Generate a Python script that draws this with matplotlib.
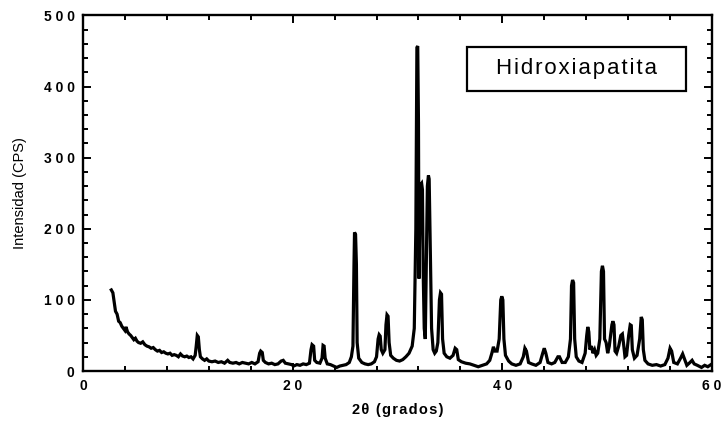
import matplotlib
matplotlib.use("Agg")
import matplotlib.pyplot as plt
from matplotlib.patches import Rectangle
from matplotlib.ticker import MultipleLocator, FuncFormatter

# Diffractogram trace: 2-theta (degrees) and intensity (CPS)
two_theta = [
    2.7, 2.85, 3.0, 3.1, 3.25, 3.4, 3.55, 3.7, 3.85, 4.0, 4.1, 4.25, 4.4, 4.55, 4.7, 4.85,
    5.0, 5.15, 5.3, 5.5, 5.7, 5.9, 6.1, 6.3, 6.5, 6.7, 6.9, 7.1, 7.3, 7.5, 7.7, 7.9, 8.1,
    8.3, 8.5, 8.7, 8.9, 9.1, 9.3, 9.5, 9.7, 9.9, 10.1, 10.3, 10.5, 10.7,
    10.8, 10.9, 11.0, 11.1, 11.2, 11.4, 11.6, 11.8, 12.0, 12.3, 12.6, 12.9, 13.2, 13.5,
    13.8, 14.0, 14.3, 14.6, 14.9, 15.2, 15.5, 15.8, 16.1, 16.4, 16.7,
    16.85, 16.95, 17.1, 17.2, 17.4, 17.7, 18.0, 18.3, 18.6, 18.9, 19.1, 19.3, 19.6, 19.9,
    20.1, 20.4, 20.7, 21.0, 21.3, 21.6,
    21.75, 21.85, 22.0, 22.1, 22.3, 22.6, 22.8, 22.9, 23.0, 23.1, 23.3, 23.6, 23.9, 24.2,
    24.5, 24.8, 25.1, 25.4, 25.6, 25.75, 25.85, 25.9, 26.0, 26.08, 26.15, 26.3, 26.6, 26.9,
    27.2, 27.5, 27.8, 28.0,
    28.15, 28.25, 28.35, 28.45, 28.6, 28.8, 28.9, 29.0, 29.1, 29.2, 29.35, 29.6, 29.9, 30.2,
    30.5, 30.8, 31.1, 31.4, 31.6, 31.75,
    31.85, 31.93, 32.0, 32.05, 32.12, 32.2, 32.3, 32.38, 32.45, 32.55, 32.65, 32.75, 32.85,
    32.95, 33.02, 33.1, 33.15, 33.25, 33.4, 33.55, 33.7, 33.85, 34.0, 34.1, 34.2, 34.3, 34.45,
    34.7, 35.0, 35.3, 35.5, 35.65, 35.8, 36.1, 36.5, 36.9, 37.3, 37.7, 38.1, 38.5, 38.8,
    39.0, 39.15, 39.3, 39.5, 39.7, 39.85, 39.95, 40.05, 40.15, 40.3, 40.6, 40.9, 41.3, 41.7,
    42.0, 42.15, 42.3, 42.5, 42.8, 43.2, 43.6, 43.85, 44.0, 44.15, 44.35, 44.7, 45.0, 45.3,
    45.45, 45.7, 46.0, 46.3, 46.5, 46.6, 46.7, 46.8, 46.9, 47.05, 47.3, 47.6, 47.9, 48.05,
    48.15, 48.25, 48.35, 48.5, 48.65, 48.8, 48.95, 49.1, 49.3, 49.45, 49.55, 49.65, 49.75,
    49.9, 50.05, 50.2, 50.45, 50.55, 50.65, 50.75, 50.9, 51.1, 51.3, 51.45, 51.55, 51.7,
    51.85, 52.05, 52.2, 52.3, 52.4, 52.6, 52.85, 53.1, 53.25, 53.35, 53.45, 53.6, 53.9,
    54.3, 54.7, 55.1, 55.5, 55.8, 56.0, 56.15, 56.35, 56.7, 57.0, 57.2, 57.35, 57.6, 57.9,
    58.1, 58.3, 58.6, 59.0, 59.3, 59.6, 60.0,
]
intensity = [
    114, 110, 95, 84, 80, 70, 68, 63, 60, 57, 62, 55, 52, 50, 47, 44,
    46, 42, 40, 39, 41, 37, 35, 34, 32, 33, 30, 28, 29, 26, 27, 25, 24,
    25, 22, 23, 22, 20, 24, 21, 20, 21, 19, 20, 17, 22,
    35, 50, 48, 30, 20, 17, 15, 17, 14, 13, 14, 12, 13, 11,
    15, 12, 11, 12, 10, 12, 11, 10, 12, 10, 13,
    25, 28, 26, 15, 12, 10, 11, 9, 10, 14, 15, 11, 10, 9,
    7, 9, 8, 10, 9, 11,
    30, 37, 35, 15, 12, 11, 18, 36, 35, 18, 10, 9, 7, 5,
    7, 8, 9, 12, 20, 35, 150, 195, 192, 150, 40, 18, 12, 10,
    9, 10, 13, 20,
    45, 51, 49, 30, 25, 30, 65, 79, 77, 40, 22, 18, 15, 14,
    16, 20, 25, 35, 60, 200,
    455, 457, 350, 130, 200, 262, 264, 255, 140, 60, 45, 150, 260,
    275, 270, 200, 160, 60, 30, 25, 28, 40, 100, 110, 108, 45, 25,
    20, 18, 22, 32, 30, 16, 13, 11, 10, 8, 6, 8, 10, 15,
    25, 34, 28, 28, 45, 100, 105, 100, 45, 22, 14, 10, 8, 10,
    20, 32, 28, 12, 10, 8, 12, 25, 32, 25, 12, 10, 12, 20,
    20, 12, 12, 20, 45, 120, 128, 124, 45, 20, 14, 12, 25, 50,
    62, 55, 30, 35, 25, 30, 22, 25, 45, 140, 148, 140, 45,
    40, 25, 35, 65, 70, 65, 28, 25, 35, 50, 52, 40, 20,
    22, 50, 65, 64, 30, 18, 22, 45, 76, 72, 30, 15, 10,
    8, 9, 7, 9, 18, 32, 28, 12, 10, 18, 24, 18, 8, 12,
    15, 10, 8, 5, 8, 6, 10,
]

x_ticks = [0, 20, 40, 60]
y_ticks = [0, 100, 200, 300, 400, 500]
sample_name = "Hidroxiapatita"

FONT = ["Liberation Sans", "DejaVu Sans"]
plt.rcParams["font.family"] = FONT


def spaced(text, gap="\u2009"):
    """Insert a small gap between characters to widen the lettering."""
    return gap.join(text)


fig = plt.figure(figsize=(7.23, 4.23), dpi=100)
ax = fig.add_axes([83 / 723, 1 - 371 / 423, 629 / 723, 355.5 / 423])

ax.plot(two_theta, intensity, color="black", lw=2.3, solid_joinstyle="miter")

ax.set_xlim(0, 60)
ax.set_ylim(0, 500)

ax.set_xticks(x_ticks)
ax.set_yticks(y_ticks)
ax.xaxis.set_minor_locator(MultipleLocator(4))
ax.yaxis.set_minor_locator(MultipleLocator(20))

fmt = FuncFormatter(lambda v, p: spaced(f"{v:.0f}", "\u2009\u200a"))
ax.xaxis.set_major_formatter(fmt)
ax.yaxis.set_major_formatter(fmt)

ax.tick_params(which="both", direction="in", top=True, right=True, width=1.4,
               labelsize=10, colors="black")
ax.tick_params(which="major", length=6)
ax.tick_params(which="minor", length=3.5)
ax.tick_params(axis="y", pad=6)
ax.tick_params(axis="x", pad=6)
for lab in ax.get_xticklabels() + ax.get_yticklabels():
    lab.set_fontweight("bold")

for sp in ax.spines.values():
    sp.set_linewidth(1.7)

ax.set_xlabel(spaced("2θ (grados)", "\u200a"), fontsize=10.5, fontweight="bold",
              labelpad=7)
ax.set_ylabel("Intensidad (CPS)", fontsize=10.5, labelpad=12)

# Sample name in a framed box
box_x0, box_y0, box_w, box_h = 0.6105, 0.7876, 0.348, 0.124
ax.add_patch(Rectangle((box_x0, box_y0), box_w, box_h, transform=ax.transAxes,
                       fill=True, fc="white", ec="black", lw=1.6, zorder=3))
ax.text(box_x0 + box_w / 2, box_y0 + box_h / 2, spaced(sample_name, "\u200a"),
        transform=ax.transAxes, ha="center", va="center", fontsize=16, zorder=4)

fig.savefig("out.png", dpi=100)
